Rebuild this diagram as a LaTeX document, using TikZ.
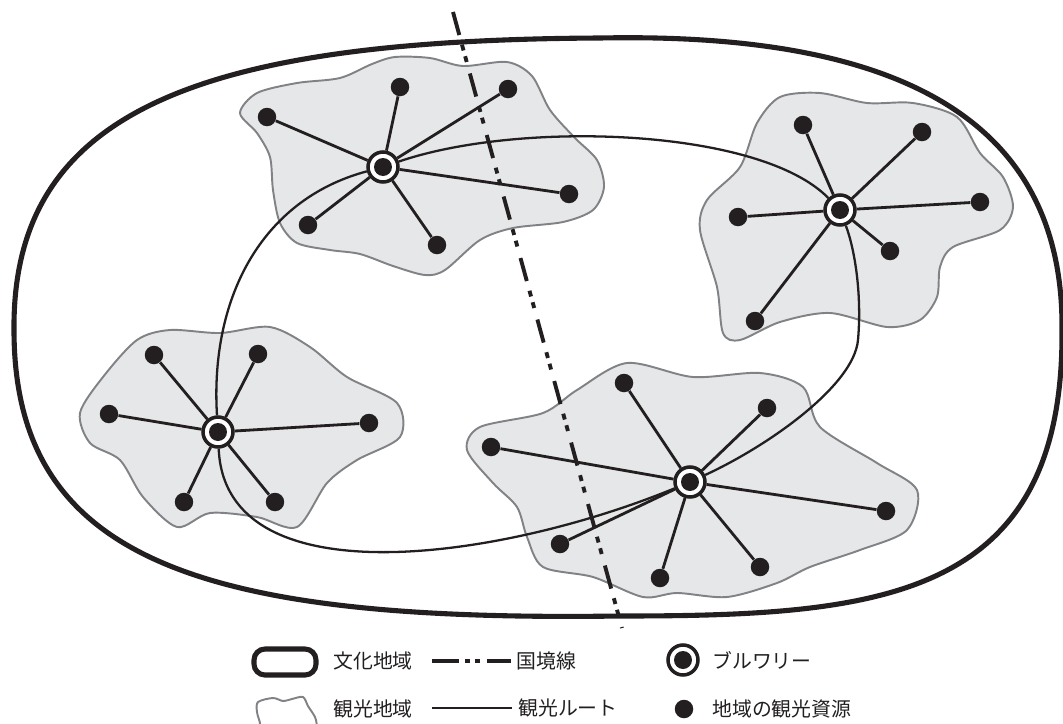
\documentclass[tikz,border=0pt]{standalone}
\usepackage{fontspec}
\setmainfont{Noto Sans CJK JP}
\usepackage{xcolor}
\definecolor{ink}{HTML}{231F20}
\definecolor{areafill}{HTML}{E6E7E8}
\definecolor{areaedge}{HTML}{808285}

\pgfdeclarelayer{areas}
\pgfdeclarelayer{routes}
\pgfsetlayers{areas,routes,main}

\begin{document}
\begin{tikzpicture}[
    x=0.02cm, y=-0.02cm,
    culture/.style={draw=ink, line width=2.9pt},
    area/.style={draw=areaedge, fill=areafill, line width=1.1pt},
    border/.style={draw=ink, line width=2.2pt, dash pattern=on 13.6pt off 5.7pt on 3.4pt off 3.4pt on 3.4pt off 6.8pt},
    route/.style={draw=ink, line width=1.3pt},
    spoke/.style={draw=ink, line width=1.6pt},
    res/.style={circle, fill=ink, inner sep=0pt, minimum size=0.37cm},
    brewery/.style={circle, draw=ink, line width=2pt, fill=white, inner sep=0pt, minimum size=0.6cm,
        path picture={\fill[ink] (path picture bounding box.center) circle (0.18cm);}},
    lbl/.style={anchor=west, inner sep=0pt, font=\fontsize{11.3}{13}\selectfont, text=ink}
]
\useasboundingbox (0,0) rectangle (1063,724);

% Breweries
\node[brewery] (b1) at (383,167) {};
\node[brewery] (b2) at (840,210) {};
\node[brewery] (b3) at (218,432) {};
\node[brewery] (b4) at (690,482) {};

% Tourism resources with spokes
\foreach \p [count=\i] in {(267,117),(400,87),(508,89),(569,194),(437,245),(308,225)} {
    \node[res] (r1\i) at \p {};
    \begin{pgfonlayer}{routes}\draw[spoke] (b1) -- (r1\i);\end{pgfonlayer}
}
\foreach \p [count=\i] in {(803,125),(922,132),(980,202),(738,217),(755,321),(890,251)} {
    \node[res] (r2\i) at \p {};
    \begin{pgfonlayer}{routes}\draw[spoke] (b2) -- (r2\i);\end{pgfonlayer}
}
\foreach \p [count=\i] in {(154,355),(258,354),(109,414),(369,423),(184,502),(275,502)} {
    \node[res] (r3\i) at \p {};
    \begin{pgfonlayer}{routes}\draw[spoke] (b3) -- (r3\i);\end{pgfonlayer}
}
\foreach \p [count=\i] in {(624,383),(767,408),(491,447),(886,511),(560,544),(660,578),(760,567)} {
    \node[res] (r4\i) at \p {};
    \begin{pgfonlayer}{routes}\draw[spoke] (b4) -- (r4\i);\end{pgfonlayer}
}

% Cultural region and tourism areas
\begin{pgfonlayer}{areas}
\draw[culture] (14,330) .. controls (12,110) and (200,40) .. (600,38)
    .. controls (900,32) and (1064,120) .. (1062,330)
    .. controls (1064,600) and (880,616) .. (620,616)
    .. controls (200,622) and (14,560) .. cycle;
\draw[area] plot[smooth cycle] coordinates {
    (240,113) (257,93) (297,83) (340,78) (372,64) (395,57) (430,58) (463,66)
    (507,62) (532,76) (550,110) (575,138) (597,160) (604,187) (593,210) (563,222)
    (513,228) (480,240) (445,270) (425,275) (393,266) (360,254) (330,250) (297,243)
    (280,223) (273,190) (270,157) (257,133)};
\draw[area] plot[smooth cycle] coordinates {
    (757,123) (780,97) (820,93) (867,103) (913,103) (957,117) (980,153) (1003,177)
    (1013,207) (1000,230) (953,247) (940,267) (937,297) (920,320) (887,327) (830,313)
    (780,322) (740,340) (723,333) (717,287) (700,230) (707,200) (740,167)};
\draw[area] plot[smooth cycle] coordinates {
    (80,413) (103,377) (137,340) (170,330) (220,333) (270,327) (310,347) (347,377)
    (397,403) (400,437) (357,460) (327,483) (297,527) (257,517) (210,513) (177,527)
    (143,497) (120,460) (90,443)};
\draw[area] plot[smooth cycle] coordinates {
    (467,450) (480,427) (543,413) (577,390) (627,363) (693,377) (760,373) (803,387)
    (820,427) (877,463) (917,490) (907,530) (860,550) (810,567) (777,583) (727,597)
    (677,593) (643,597) (593,577) (543,567) (527,537) (517,507) (493,483)};

% National border
\coordinate (bdtop) at (453,12);
\coordinate (bdbot) at (622,628);
\draw[border] (bdtop) -- (bdbot);
\end{pgfonlayer}

% Tourism route
\begin{pgfonlayer}{routes}
\draw[route] (b1) .. controls (520,120) and (760,128) .. (b2);
\coordinate (rt) at (858,340);
\draw[route] (b2) .. controls (855,250) and (862,295) .. (rt)
    .. controls (854,385) and (770,445) .. (b4);
\draw[route] (b4) .. controls (500,560) and (225,600) .. (b3);
\draw[route] (b3) .. controls (210,300) and (260,200) .. (b1);
\end{pgfonlayer}

% Legend
\draw[culture, rounded corners=0.22cm] (254,649) rectangle (316,675);
\node[lbl] (t-culture) at (333,661) {文化地域};
\coordinate (lb1) at (432,661);
\coordinate (lb2) at (511,661);
\draw[border, dash pattern=on 15.4pt off 3.4pt on 2.8pt off 2.8pt on 2.8pt off 4pt on 14.2pt] (lb1) -- (lb2);
\node[lbl] (t-border) at (516,661) {国境線};
\node[brewery] (lbrew) at (683,660) {};
\node[lbl] (t-brewery) at (712,660) {ブルワリー};

\draw[draw=areaedge, fill=white, line width=1.1pt] plot[smooth cycle] coordinates {
    (257,712) (258,702) (273,698) (283,701) (292,699) (303,697) (308,706) (316,720)
    (312,735) (262,735) (260,723)};
\node[lbl] (t-area) at (333,709) {観光地域};
\coordinate (lr1) at (432,708);
\coordinate (lr2) at (512,708);
\draw[route] (lr1) -- (lr2);
\node[lbl] (t-route) at (518,708) {観光ルート};
\node[res] (lres) at (684,709) {};
\node[lbl] (t-res) at (712,709) {地域の観光資源};
\end{tikzpicture}
\end{document}
